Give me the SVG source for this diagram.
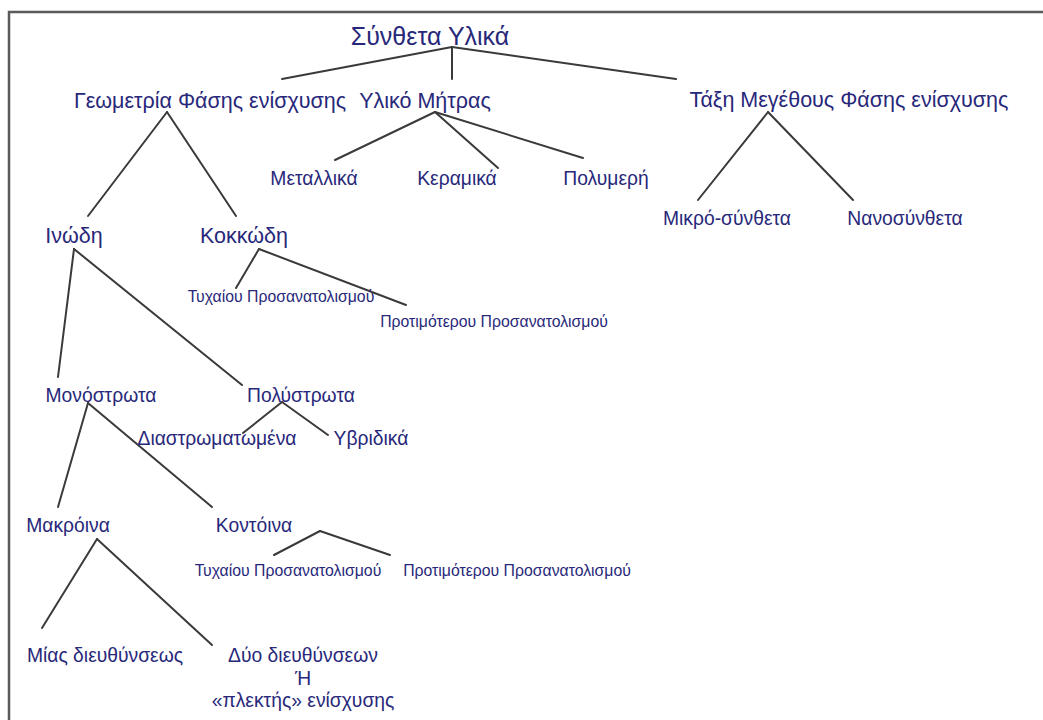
<svg xmlns="http://www.w3.org/2000/svg" width="1043" height="720" viewBox="0 0 1043 720">
<style>
text{font-family:"Liberation Sans",Arial,sans-serif;fill:#28287a;text-anchor:middle}
.t0{font-size:25px}
.t1{font-size:21.5px}
.t2{font-size:19.3px}
.t3{font-size:15.8px}
.c line{stroke:#3a3a3a;stroke-width:2;stroke-linecap:round}
.frame{fill:none;stroke:#5a5a5a;stroke-width:2.5}
</style>
<rect width="1043" height="720" fill="#ffffff"/>
<path class="frame" d="M9,725 L9,12 L1050,12"/>
<g class="c" id="connectors">
<line x1="452" y1="47" x2="282" y2="79"/>
<line x1="452" y1="47" x2="452" y2="79"/>
<line x1="452" y1="47" x2="676" y2="79"/>
<line x1="167" y1="112" x2="88" y2="216"/>
<line x1="167" y1="112" x2="236" y2="216"/>
<line x1="435" y1="112" x2="335" y2="160"/>
<line x1="435" y1="112" x2="498" y2="168"/>
<line x1="435" y1="112" x2="583" y2="158"/>
<line x1="768" y1="112" x2="698" y2="200"/>
<line x1="768" y1="112" x2="853" y2="200"/>
<line x1="259" y1="249" x2="236" y2="288"/>
<line x1="259" y1="249" x2="406" y2="305"/>
<line x1="74" y1="249" x2="58" y2="377"/>
<line x1="74" y1="249" x2="242" y2="385"/>
<line x1="88" y1="403" x2="58" y2="507"/>
<line x1="88" y1="403" x2="212" y2="507"/>
<line x1="282" y1="402" x2="243" y2="433"/>
<line x1="282" y1="402" x2="328" y2="435"/>
<line x1="97" y1="539" x2="42" y2="628"/>
<line x1="97" y1="539" x2="212" y2="645"/>
<line x1="320" y1="531" x2="274" y2="555"/>
<line x1="320" y1="531" x2="390" y2="555"/>
</g>
<g id="n-root"><text class="t0" x="430" y="45">Σύνθετα Υλικά</text></g>
<g id="n-geometria"><text class="t1" x="210" y="108">Γεωμετρία Φάσης ενίσχυσης</text></g>
<g id="n-matrix"><text class="t1" x="425" y="108">Υλικό Μήτρας</text></g>
<g id="n-size"><text class="t1" x="849" y="107">Τάξη Μεγέθους Φάσης ενίσχυσης</text></g>
<g id="n-metal"><text class="t2" x="314" y="185">Μεταλλικά</text></g>
<g id="n-ceramic"><text class="t2" x="457" y="185">Κεραμικά</text></g>
<g id="n-polymer"><text class="t2" x="606" y="185">Πολυμερή</text></g>
<g id="n-micro"><text class="t2" x="727" y="225">Μικρό-σύνθετα</text></g>
<g id="n-nano"><text class="t2" x="905" y="225">Νανοσύνθετα</text></g>
<g id="n-fiber"><text class="t1" x="74" y="243">Ινώδη</text></g>
<g id="n-particle"><text class="t1" x="244" y="243">Κοκκώδη</text></g>
<g id="n-random1"><text class="t3" x="281" y="302">Τυχαίου Προσανατολισμού</text></g>
<g id="n-pref1"><text class="t3" x="494" y="327">Προτιμότερου Προσανατολισμού</text></g>
<g id="n-mono"><text class="t2" x="101" y="402">Μονόστρωτα</text></g>
<g id="n-poly"><text class="t2" x="301" y="402">Πολύστρωτα</text></g>
<g id="n-laminate"><text class="t2" x="217" y="445">Διαστρωματωμένα</text></g>
<g id="n-hybrid"><text class="t2" x="371" y="445">Υβριδικά</text></g>
<g id="n-long"><text class="t2" x="68" y="532">Μακρόινα</text></g>
<g id="n-short"><text class="t2" x="254" y="532">Κοντόινα</text></g>
<g id="n-random2"><text class="t3" x="288" y="576">Τυχαίου Προσανατολισμού</text></g>
<g id="n-pref2"><text class="t3" x="517" y="576">Προτιμότερου Προσανατολισμού</text></g>
<g id="n-uni"><text class="t2" x="105" y="662">Μίας διευθύνσεως</text></g>
<g id="n-bi"><text class="t2" x="303" y="662">Δύο διευθύνσεων</text><text class="t2" x="303" y="685">Ή</text><text class="t2" x="303" y="707">«πλεκτής» ενίσχυσης</text></g>
</svg>
